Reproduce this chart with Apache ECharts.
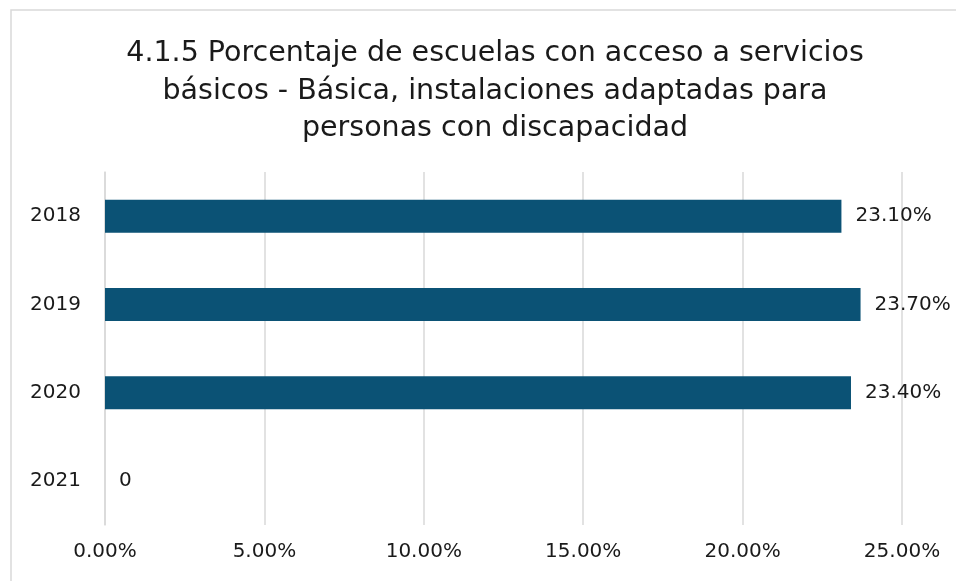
<!DOCTYPE html>
<html>
<head>
    <meta charset="utf-8" />
    <style type="text/css">
        body, html, #chart {width: 100%; height: 100%; overflow: hidden; margin: 0; background: #fff;}
    </style>
    <title>4.1.5</title>
</head>
<body>
<div id="chart"></div>
<script src="https://cdn.jsdelivr.net/npm/echarts@6/dist/echarts.min.js"></script>
<script type="text/javascript">
    var years = ['2018', '2019', '2020', '2021'];
    var values = [23.1, 23.7, 23.4, 0];
    var xTicks = [0, 5, 10, 15, 20, 25];

    var font = '"DejaVu Sans", sans-serif';
    var myChart = echarts.init(document.getElementById('chart'));
    myChart.setOption({
        animation: false,
        title: {
            text: '4.1.5 Porcentaje de escuelas con acceso a servicios\nbásicos - Básica, instalaciones adaptadas para\npersonas con discapacidad',
            left: 490,
            textAlign: 'center',
            top: 30,
            textStyle: {
                fontFamily: font,
                fontWeight: 'normal',
                fontSize: 28.5,
                lineHeight: 37.5,
                color: '#1a1a1a'
            }
        },
        graphic: [{
            type: 'rect',
            shape: {x: 11, y: 10, width: 1000, height: 700},
            style: {fill: 'none', stroke: '#d9d9d9', lineWidth: 1.5},
            silent: true
        }],
        grid: {left: 105, right: 54, top: 172, bottom: 56},
        xAxis: {
            type: 'value',
            min: xTicks[0],
            max: xTicks[xTicks.length - 1],
            interval: 5,
            axisLine: {show: false},
            axisTick: {show: false},
            splitLine: {lineStyle: {color: '#d9d9d9', width: 1.5}},
            axisLabel: {
                margin: 17,
                fontFamily: font,
                fontSize: 20,
                color: '#1a1a1a',
                formatter: function (v) { return v.toFixed(2) + '%'; }
            }
        },
        yAxis: {
            type: 'category',
            data: years,
            inverse: true,
            axisLine: {show: true, lineStyle: {color: '#d9d9d9', width: 1.5}},
            axisTick: {show: false},
            axisLabel: {
                margin: 24,
                fontFamily: font,
                fontSize: 20,
                color: '#1a1a1a'
            }
        },
        series: [{
            type: 'bar',
            data: values,
            barWidth: 33,
            itemStyle: {color: '#0b5275'},
            label: {
                show: true,
                position: 'right',
                distance: 14,
                fontFamily: font,
                fontSize: 20,
                color: '#1a1a1a',
                formatter: function (p) {
                    return p.value === 0 ? '0' : p.value.toFixed(2) + '%';
                }
            }
        }]
    });
</script>
</body>
</html>
